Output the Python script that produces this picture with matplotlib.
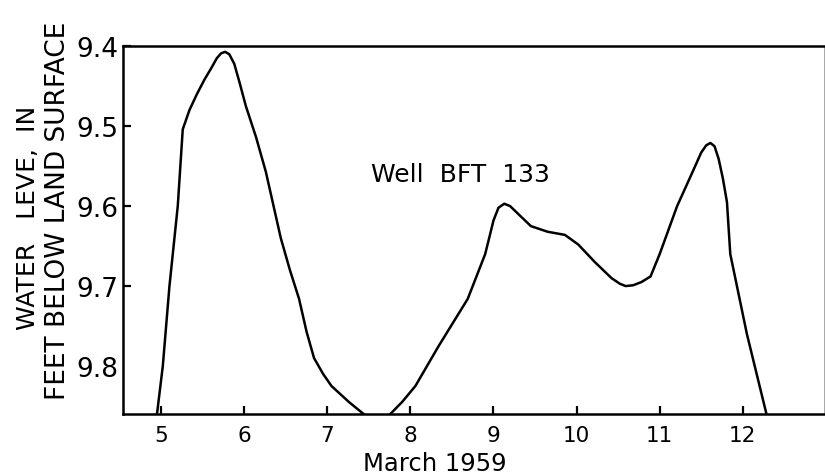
"""Hydrograph of water level in well BFT 133, March 1959."""

import matplotlib.pyplot as plt

# days of March 1959 and water level (feet below land surface)
days = [4.95, 5.02, 5.10, 5.20, 5.26, 5.34, 5.43, 5.52, 5.60, 5.67, 5.72,
        5.77, 5.82, 5.88, 5.94, 6.02, 6.14, 6.26, 6.44, 6.55, 6.66, 6.75,
        6.84, 6.95, 7.05, 7.26, 7.46, 7.60, 7.74, 7.90, 8.06, 8.34, 8.69,
        8.90, 9.00, 9.06, 9.13, 9.20, 9.30, 9.45, 9.65, 9.86, 10.02, 10.22,
        10.42, 10.52, 10.59, 10.68, 10.78, 10.89, 11.00, 11.21, 11.41, 11.50,
        11.56, 11.61, 11.66, 11.71, 11.76, 11.81, 11.85, 12.05, 12.29]
level = [9.860, 9.800, 9.700, 9.600, 9.504, 9.480, 9.460, 9.442, 9.428, 9.415,
         9.409, 9.407, 9.410, 9.422, 9.444, 9.475, 9.513, 9.557, 9.640, 9.680,
         9.716, 9.757, 9.790, 9.810, 9.825, 9.845, 9.862, 9.868, 9.862, 9.845,
         9.825, 9.775, 9.716, 9.660, 9.618, 9.602, 9.597, 9.600, 9.610, 9.625,
         9.632, 9.636, 9.648, 9.670, 9.690, 9.697, 9.700, 9.699, 9.695, 9.688,
         9.660, 9.600, 9.554, 9.533, 9.524, 9.521, 9.525, 9.541, 9.565, 9.595,
         9.660, 9.760, 9.862]

x_ticks = [5, 6, 7, 8, 9, 10, 11, 12]
x_tick_labels = ["5", "6", "7", "8", "9", "10", "11", "12"]
y_ticks = [9.4, 9.5, 9.6, 9.7, 9.8]
y_tick_labels = ["9.4", "9.5", "9.6", "9.7", "9.8"]


def main() -> None:
    fig = plt.figure(figsize=(8.25, 4.77), dpi=100)
    ax = fig.add_axes([0.149, 0.130, 0.850, 0.771])

    ax.plot(days, level, color="black", linewidth=1.8,
            solid_joinstyle="round", solid_capstyle="round")

    ax.set_xlim(4.54, 12.98)
    ax.set_ylim(9.86, 9.4)

    ax.set_xticks(x_ticks)
    ax.set_xticklabels(x_tick_labels, fontsize=15.5)
    ax.set_yticks(y_ticks)
    ax.set_yticklabels(y_tick_labels, fontsize=19)
    ax.tick_params(axis="x", direction="in", length=6, width=1.6, pad=8)
    ax.tick_params(axis="y", direction="in", length=6, width=1.6, pad=3)
    # no tick mark on the lowest level
    ax.yaxis.get_major_ticks()[-1].tick1line.set_visible(False)

    for side in ["left", "bottom", "top"]:
        ax.spines[side].set_linewidth(1.8)
    ax.spines["right"].set_linewidth(0.6)
    ax.spines["right"].set_color("#999999")

    ax.text(7.53, 9.56, "Well  BFT  133", fontsize=18, va="center", ha="left")

    ax.set_xlabel("March 1959", fontsize=17.5)
    ax.xaxis.set_label_coords(0.445, -0.100)

    fig.text(0.034, 0.543, "WATER   LEVE,  IN", rotation=90, fontsize=18,
             ha="center", va="center")
    fig.text(0.070, 0.558, "FEET BELOW LAND SURFACE", rotation=90, fontsize=19,
             ha="center", va="center")

    fig.savefig("out.png", dpi=100)
    plt.close(fig)


if __name__ == "__main__":
    main()
